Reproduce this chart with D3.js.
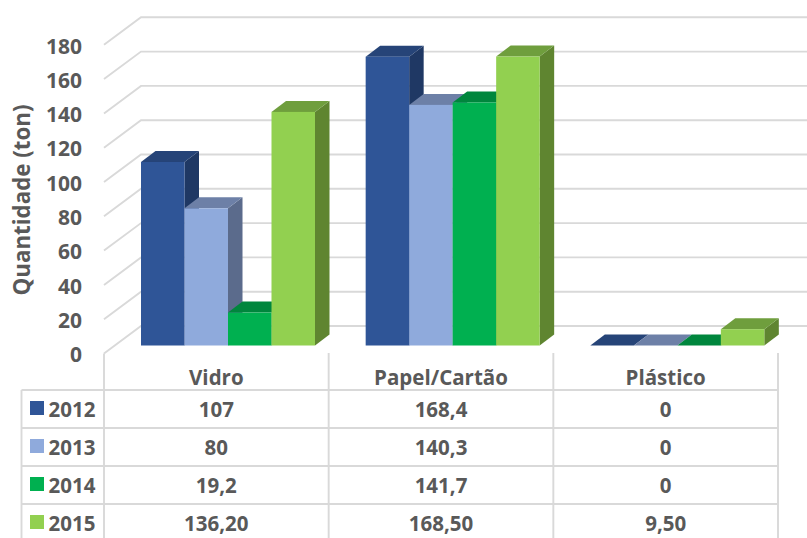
<!DOCTYPE html>
<html><head><meta charset="utf-8">
<script src="https://cdn.jsdelivr.net/npm/d3@7"></script>
<style>html,body{margin:0;padding:0;background:#fff;overflow:hidden}svg{display:block}
text{font-family:"Open Sans",sans-serif;font-weight:700;fill:#595959}</style></head>
<body><svg id="c" width="807" height="538"></svg>
<script>
const categories = ["Vidro","Papel/Cartão","Plástico"];
const years = ["2012","2013","2014","2015"];
const v2012 = [107,168.4,0];
const v2013 = [80,140.3,0];
const v2014 = [19.2,141.7,0];
const v2015 = [136.2,168.5,9.5];
const l2012 = ["107","168,4","0"];
const l2013 = ["80","140,3","0"];
const l2014 = ["19,2","141,7","0"];
const l2015 = ["136,20","168,50","9,50"];
const yTicks = [0,20,40,60,80,100,120,140,160,180];
const seriesValues = [v2012,v2013,v2014,v2015];
const seriesLabels = [l2012,l2013,l2014,l2015];
const front = ["#2F5597","#8FAADC","#00B050","#92D050"];
const topC = ["#264478","#6D80A7","#00863D","#6F9E3D"];
const sideC = ["#1F3864","#5B6B8C","#00863D","#5F8530"];

const svg = d3.select("#c");
const baseY = 345.5, tableLeft = 21.5, tableRight = 778;
const y = d3.scaleLinear().domain([0,180]).range([baseY, baseY-308.7]);
const cat = d3.scaleBand().domain(categories).range([104,tableRight]);
const barsLeft = 37, barsWidth = 174;
const ser = d3.scaleBand().domain(years).range([0,barsWidth]);
const depthBack = {dx:37, dy:-28};      // floor front edge to back wall
const wallShift = -19.5;                // bar front plane to back wall
const floorShift = 8;                   // bar front plane to floor front edge
const bd = {dx:14.5, dy:-11};           // bar depth
const grid = "#D9D9D9";

// gridlines: side wall + back wall
const gg = svg.append("g").attr("fill","none").attr("stroke",grid).attr("stroke-width",1.9);
gg.selectAll("path").data(yTicks).join("path").attr("d", t => {
  const f = y(t)+floorShift, b = y(t)+wallShift;
  return d3.line()([[104,f],[104+depthBack.dx,b],[807,b]]);
});

// bars
categories.forEach((c,ci)=>{
  const g = svg.append("g");
  years.forEach((yr,si)=>{
    const v = seriesValues[si][ci];
    const x0 = cat(c)+barsLeft+ser(yr), w = ser.bandwidth(), t = y(v), b = y(0);
    const x1 = x0+w;
    g.append("path").attr("fill",sideC[si]).attr("d",
      d3.line()([[x1,t],[x1+bd.dx,t+bd.dy],[x1+bd.dx,b+bd.dy],[x1,b]])+"Z");
    g.append("path").attr("fill",topC[si]).attr("d",
      d3.line()([[x0,t],[x0+bd.dx,t+bd.dy],[x1+bd.dx,t+bd.dy],[x1,t]])+"Z");
    if (v>0) g.append("rect").attr("x",x0).attr("y",t).attr("width",w).attr("height",b-t)
      .attr("fill",front[si]);
  });
});

// y tick labels
svg.append("g").selectAll("text").data(yTicks).join("text")
  .attr("x",82).attr("y",t=>y(t)+floorShift+1.2).attr("dy","0.36em")
  .attr("text-anchor","end").attr("font-size",21).text(t=>t);
svg.append("text").attr("transform","translate(29.5,200) rotate(-90)")
  .attr("text-anchor","middle").attr("font-size",22.3).text("Quantidade (ton)");

// table
const rowH = 38, headY = 390;
const tb = svg.append("g").attr("stroke",grid).attr("stroke-width",1.9);
d3.range(4).forEach(i=>{
  tb.append("line").attr("x1",tableLeft).attr("x2",tableRight)
    .attr("y1",headY+i*rowH).attr("y2",headY+i*rowH);
});
tb.append("line").attr("x1",tableLeft).attr("x2",tableLeft).attr("y1",headY).attr("y2",538);
[104,...categories.map(c=>cat(c)+cat.bandwidth())].forEach(x=>{
  tb.append("line").attr("x1",x).attr("x2",x).attr("y1",x===104?353.5:353).attr("y2",538);
});
const fs = 20.5;
categories.forEach(c=>{
  svg.append("text").attr("x",cat(c)+cat.bandwidth()/2).attr("y",378).attr("dy","0.36em")
    .attr("text-anchor","middle").attr("font-size",fs).text(c);
});
years.forEach((yr,si)=>{
  const cy = headY+rowH*si+19;
  svg.append("rect").attr("x",30).attr("y",cy-8).attr("width",14).attr("height",14).attr("fill",front[si]);
  svg.append("text").attr("x",48.5).attr("y",cy+0.8).attr("dy","0.36em").attr("font-size",fs).text(yr);
  categories.forEach((c,ci)=>{
    svg.append("text").attr("x",cat(c)+cat.bandwidth()/2).attr("y",cy+0.8).attr("dy","0.36em")
      .attr("text-anchor","middle").attr("font-size",fs).text(seriesLabels[si][ci]);
  });
});
</script></body></html>
